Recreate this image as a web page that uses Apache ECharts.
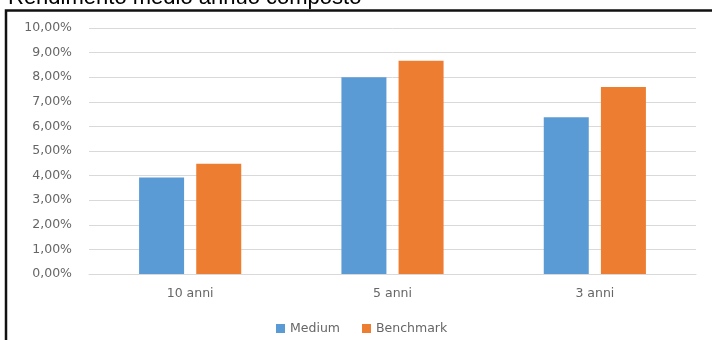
<!DOCTYPE html>
<html>
<head>
<meta charset="utf-8">
<script src="https://cdn.jsdelivr.net/npm/echarts@6/dist/echarts.min.js"></script>
<style>html,body{margin:0;padding:0;background:#fff}#c{width:712px;height:340px}</style>
</head>
<body>
<div id="c"></div>
<script>
const categories = ['10 anni', '5 anni', '3 anni'];
const medium = [3.92, 8.0, 6.37];
const benchmark = [4.48, 8.67, 7.6];
const seriesNames = ['Medium', 'Benchmark'];
const titleText = 'Rendimento medio annuo composto';

const chart = echarts.init(document.getElementById('c'), null, {renderer: 'canvas'});
const labelFont = '"DejaVu Sans", sans-serif';
const labelColor = '#666666';
chart.setOption({
  animation: false,
  backgroundColor: '#fff',
  color: ['#5B9BD5', '#ED7D31'],
  grid: {left: 89, right: 16, top: 28, bottom: 66},
  graphic: [
    {type: 'text', left: 8, top: -13, style: {text: titleText, font: '22px "Liberation Sans", Arial, sans-serif', fill: '#000'}},
    {type: 'rect', shape: {x: 6, y: 10.5, width: 800, height: 400}, style: {fill: 'none', stroke: '#111', lineWidth: 2.5}}
  ],
  legend: {
    data: seriesNames, left: 271, top: 317, icon: 'rect', itemWidth: 9, itemHeight: 9, itemGap: 22,
    textStyle: {color: labelColor, fontSize: 12.5, fontFamily: labelFont}
  },
  xAxis: {
    type: 'category', data: categories,
    axisLine: {lineStyle: {color: '#d9d9d9'}}, axisTick: {show: false},
    axisLabel: {color: labelColor, fontSize: 12.5, fontFamily: labelFont, margin: 13}
  },
  yAxis: {
    type: 'value', min: 0, max: 10, interval: 1,
    axisLine: {show: false}, axisTick: {show: false},
    splitLine: {lineStyle: {color: '#d9d9d9'}},
    axisLabel: {color: labelColor, fontSize: 12.5, fontFamily: labelFont, margin: 17,
      formatter: v => v.toFixed(2).replace('.', ',') + '%'}
  },
  series: [
    {name: seriesNames[0], type: 'bar', data: medium, barWidth: 45, barGap: '27%'},
    {name: seriesNames[1], type: 'bar', data: benchmark, barWidth: 45, barGap: '27%'}
  ]
});
</script>
</body>
</html>
